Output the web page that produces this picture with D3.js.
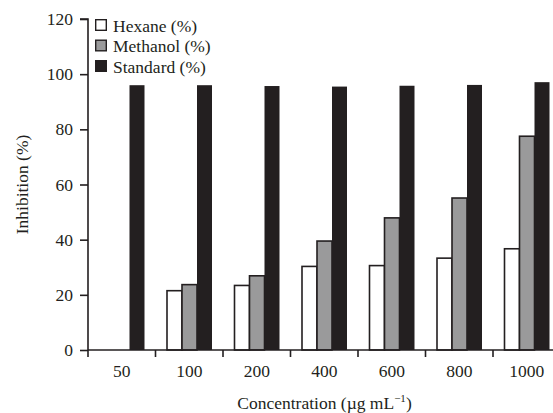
<!DOCTYPE html>
<html><head><meta charset="utf-8">
<script src="https://cdn.jsdelivr.net/npm/d3@7"></script>
<style>body{margin:0;background:#fff}svg{display:block}text{font-family:"Liberation Serif","Times New Roman",serif;fill:#231f20}</style>
</head><body><svg id="c" width="553" height="413"></svg>
<script>
const categories = ["50","100","200","400","600","800","1000"];
const hexane   = [null, 21.5, 23.4, 30.3, 30.6, 33.3, 36.7];
const methanol = [null, 23.7, 26.9, 39.5, 47.9, 55.1, 77.5];
const standard = [96.0, 96.0, 95.7, 95.5, 95.8, 96.1, 97.1];
const seriesNames = ["Hexane (%)","Methanol (%)","Standard (%)"];
const yTicks = [0,20,40,60,80,100,120];

(function(){
const svg = d3.select("#c");
const ink = "#231f20";
const fills = ["#ffffff","#9a9a9b", ink];
const mLeft = 88, mBottom = 350, mTop = 19;
const fs = 17.5;
const x = d3.scaleBand().domain(categories).range([mLeft, mLeft + 67.5*7]).paddingInner(0).paddingOuter(0);
const y = d3.scaleLinear().domain([0,120]).range([mBottom, mTop]);
const sub = d3.scaleBand().domain([0,1,2]).range([11.5, 56.5]);

const data = [hexane, methanol, standard];
data.forEach((arr, si) => {
  svg.append("g").selectAll("rect").data(categories.map((c,i)=>({c, v:arr[i]})).filter(d=>d.v!=null))
    .join("rect")
    .attr("x", d => x(d.c) + sub(si))
    .attr("y", d => y(d.v))
    .attr("width", sub.bandwidth())
    .attr("height", d => mBottom - y(d.v))
    .attr("fill", fills[si])
    .attr("stroke", ink).attr("stroke-width", si===2?0:1.6);
});

// y axis
const ya = svg.append("g").attr("transform",`translate(${mLeft},0)`)
  .call(d3.axisLeft(y).tickValues(yTicks).tickSize(8).tickPadding(7));
ya.select(".domain").attr("stroke", ink).attr("stroke-width",1.6).attr("d", `M-8,${mTop}H0V${mBottom}`);
ya.selectAll(".tick line").attr("stroke", ink).attr("stroke-width",1.6);
ya.selectAll(".tick text").attr("font-size",fs).attr("font-family","Liberation Serif").attr("fill",ink);

// x axis
const xa = svg.append("g").attr("transform",`translate(0,${mBottom})`)
  .call(d3.axisBottom(x).tickSize(0).tickPadding(14.5));
xa.select(".domain").attr("stroke", ink).attr("stroke-width",1.6).attr("d", `M${mLeft},0H553`);
xa.selectAll(".tick text").attr("font-size",fs).attr("font-family","Liberation Serif").attr("fill",ink);
svg.append("g").selectAll("line").data(categories).join("line")
  .attr("x1", d=>x(d)).attr("x2", d=>x(d)).attr("y1", mBottom).attr("y2", mBottom+7)
  .attr("stroke", ink).attr("stroke-width",1.6);

// axis titles
svg.append("text").attr("transform","translate(28,184.5) rotate(-90)").attr("text-anchor","middle")
  .attr("font-size",fs).text("Inhibition (%)");
const xt = svg.append("text").attr("x",324.5).attr("y",409).attr("text-anchor","middle").attr("font-size",fs);
xt.append("tspan").text("Concentration (µg mL");
xt.append("tspan").attr("dy",-7).attr("font-size",11).text("−1");
xt.append("tspan").attr("dy",7).text(")");

// legend
const lg = svg.append("g").attr("transform","translate(95,19)");
seriesNames.forEach((n,i)=>{
  const g = lg.append("g").attr("transform",`translate(0,${i*20.5})`);
  g.append("rect").attr("x",0.7).attr("y",0.7).attr("width",10.6).attr("height",10.6)
    .attr("fill",fills[i]).attr("stroke",ink).attr("stroke-width",1.4);
  g.append("text").attr("x",18).attr("y",12.5).attr("font-size",fs).text(n);
});
})();
</script></body></html>
